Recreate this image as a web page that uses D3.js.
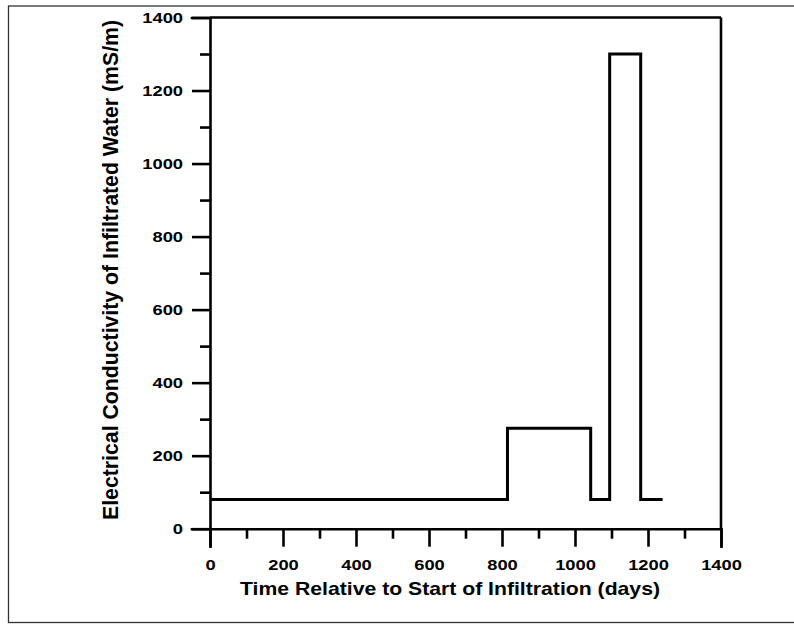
<!DOCTYPE html>
<html>
<head>
<meta charset="utf-8">
<script src="https://cdn.jsdelivr.net/npm/d3@7"></script>
<style>
  html, body { margin: 0; padding: 0; background: #fff; }
  svg { display: block; }
  text { font-family: "Liberation Sans", Arial, sans-serif; font-weight: bold; fill: #000; }
</style>
</head>
<body>
<div id="chart"></div>
<script>
// step series: value holds from each time until the next one
const days = [0, 815, 1043, 1095, 1180, 1240];
const conductivity = [80, 275, 80, 1300, 80, 80];

const xTicks = [0, 200, 400, 600, 800, 1000, 1200, 1400];
const yTicks = [0, 200, 400, 600, 800, 1000, 1200, 1400];
const xMinor = [100, 300, 500, 700, 900, 1100, 1300];
const yMinor = [100, 300, 500, 700, 900, 1100, 1300];

const xTitle = 'Time Relative to Start of Infiltration (days)';
const yTitle = 'Electrical Conductivity of Infiltrated Water (mS/m)';

const width = 794;
const height = 624;
const margin = { top: 17.5, right: 73, bottom: 95.3, left: 210 };
const innerW = width - margin.left - margin.right;
const innerH = height - margin.top - margin.bottom;
const stretch = 1.22; // the original text is drawn wide

const svg = d3.select('#chart')
  .append('svg')
  .attr('width', width)
  .attr('height', height);

// outer frame
svg.append('rect')
  .attr('x', 8.5)
  .attr('y', 6)
  .attr('width', 800)
  .attr('height', 616.5)
  .attr('fill', 'none')
  .attr('stroke', '#333')
  .attr('stroke-width', 1.3);

const g = svg.append('g')
  .attr('transform', `translate(${margin.left},${margin.top})`);

const x = d3.scaleLinear().domain([0, 1400]).range([0, innerW]);
const y = d3.scaleLinear().domain([0, 1400]).range([innerH, 0]);

// X axis (major + minor)
g.append('g')
  .attr('transform', `translate(0,${innerH})`)
  .call(d3.axisBottom(x).tickValues(xTicks).tickSize(18).tickPadding(13).tickFormat(d3.format('d')));
g.append('g')
  .attr('transform', `translate(0,${innerH})`)
  .call(d3.axisBottom(x).tickValues(xMinor).tickSize(10).tickFormat(''))
  .select('.domain').remove();

// Y axis (major + minor)
g.append('g')
  .call(d3.axisLeft(y).tickValues(yTicks).tickSize(18).tickPadding(9).tickFormat(d3.format('d')));
g.append('g')
  .call(d3.axisLeft(y).tickValues(yMinor).tickSize(10).tickFormat(''))
  .select('.domain').remove();

g.selectAll('.domain, .tick line')
  .attr('stroke', '#000')
  .attr('stroke-width', 2.6);
g.selectAll('.domain').attr('stroke-linecap', 'square');
g.selectAll('.tick text')
  .attr('font-size', null)
  .attr('font-family', null)
  .style('font-size', '15px')
  .each(function () {
    const w = this.getComputedTextLength();
    if (w > 0) {
      d3.select(this)
        .attr('textLength', w * stretch)
        .attr('lengthAdjust', 'spacingAndGlyphs');
    }
  });

// top and right frame lines of the plot box
g.append('line')
  .attr('x1', x(0)).attr('x2', x(1400))
  .attr('y1', y(1400)).attr('y2', y(1400))
  .attr('stroke', '#000').attr('stroke-width', 2.6);
g.append('line')
  .attr('x1', x(1400)).attr('x2', x(1400))
  .attr('y1', y(1400)).attr('y2', y(0))
  .attr('stroke', '#000').attr('stroke-width', 2.6);

// step line
const line = d3.line()
  .x((d, i) => x(days[i]))
  .y(d => y(d))
  .curve(d3.curveStepAfter);

g.append('path')
  .datum(conductivity)
  .attr('d', line)
  .attr('fill', 'none')
  .attr('stroke', '#000')
  .attr('stroke-width', 3);

// X axis label
svg.append('text')
  .attr('x', 450)
  .attr('y', 595)
  .attr('text-anchor', 'middle')
  .attr('textLength', 420)
  .attr('lengthAdjust', 'spacingAndGlyphs')
  .style('font-size', '18.5px')
  .text(xTitle);

// Y axis label (glyphs widened across, like the x label)
svg.append('text')
  .attr('transform', `translate(117.5,270) rotate(-90) scale(1,${stretch})`)
  .attr('text-anchor', 'middle')
  .attr('textLength', 500)
  .attr('lengthAdjust', 'spacingAndGlyphs')
  .style('font-size', '18.5px')
  .text(yTitle);
</script>
</body>
</html>
